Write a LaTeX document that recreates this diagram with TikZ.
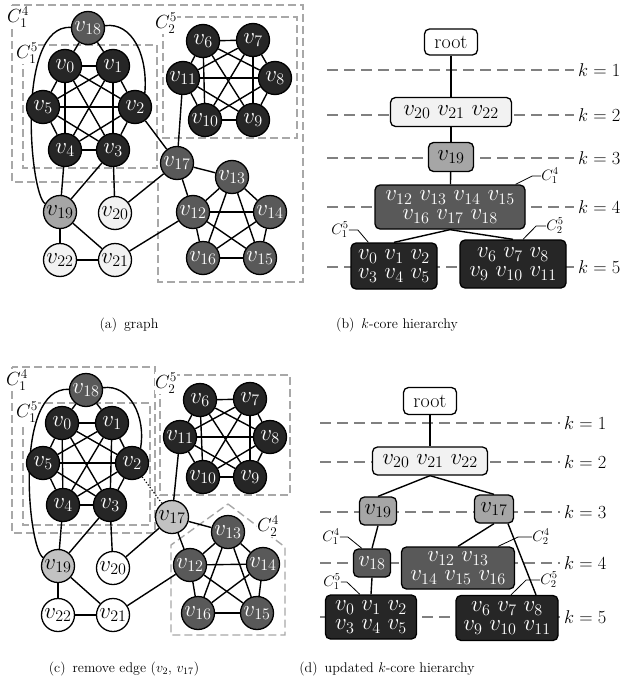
\RequirePackage{fix-cm}
\documentclass[tikz,border=0pt]{standalone}
\usetikzlibrary{calc}
\pgfdeclarelayer{back}
\pgfdeclarelayer{mid}
\pgfsetlayers{back,mid,main}
\definecolor{corefive}{gray}{0.15}
\definecolor{corefour}{gray}{0.35}
\definecolor{corethree}{gray}{0.65}
\definecolor{corethreelt}{gray}{0.76}
\definecolor{coretwo}{gray}{0.95}
\definecolor{boxgray}{gray}{0.66}
\definecolor{levelgray}{gray}{0.5}
\begin{document}
\begin{tikzpicture}[x=1pt,y=-1pt,
  vtx/.style={circle,draw=black,line width=1.3pt,minimum size=33pt,inner sep=0pt,font=\fontsize{23}{23}\selectfont},
  dk/.style={vtx,fill=corefive,text=white},
  md/.style={vtx,fill=corefour,text=white},
  lt/.style={vtx,fill=corethree},
  ltb/.style={vtx,fill=corethreelt},
  pl/.style={vtx,fill=coretwo},
  wh/.style={vtx,fill=white},
  edge/.style={line width=1.4pt},
  cbox/.style={draw=boxgray,line width=1.4pt,dash pattern=on 8pt off 4pt},
  clab/.style={fill=white,inner sep=0.5pt,font=\fontsize{19}{19}\selectfont},
  level/.style={draw=levelgray,line width=1.8pt,dash pattern=on 11pt off 6pt},
  klab/.style={anchor=west,font=\fontsize{18.5}{18.5}\selectfont,inner sep=0pt},
  hbox/.style={draw=black,line width=1.3pt,rounded corners=5pt,inner sep=0pt,align=center,font=\fontsize{23}{19}\selectfont},
  hb/.style n args={2}{hbox,minimum width=#1pt,minimum height=#2pt},
  hlab/.style={font=\fontsize{15}{15}\selectfont,inner sep=0pt},
  leader/.style={line width=0.8pt},
  capt/.style={anchor=base,font=\fontsize{14}{14}\selectfont},
]
\path[use as bounding box] (0,0) rectangle (624,685);

% ---------- (a) graph ----------
\foreach \n/\x/\y in {0/65/66,1/113/66,2/135/107,3/113/150,4/65/150,5/43/107,
                      6/203/41,7/253/40,8/275/78,9/253/120,10/205/120,11/183/78}
  \node[dk] (a\n) at (\x,\y) {$v_{\n}$};
\foreach \n/\x/\y in {12/193/212,13/232/177,14/270/212,15/260/258,16/203/258,17/177/163,18/88/28}
  \node[md] (a\n) at (\x,\y) {$v_{\n}$};
\node[lt] (a19) at (60,212) {$v_{19}$};
\foreach \n/\x/\y in {20/115/213,21/115/260,22/60/260}
  \node[pl] (a\n) at (\x,\y) {$v_{\n}$};

% ---------- (c) graph after edge removal ----------
\foreach \n/\x/\y in {0/62/423,1/112/423,2/132/463,3/110/505,4/63/505,5/43/463,
                      6/200/400,7/250/399,8/270/437,9/250/477,10/203/477,11/180/437}
  \node[dk] (c\n) at (\x,\y) {$v_{\n}$};
\foreach \n/\x/\y in {12/190/565,13/228/532,14/263/564,15/257/613,16/198/613,18/86/390}
  \node[md] (c\n) at (\x,\y) {$v_{\n}$};
\node[ltb] (c17) at (172,517) {$v_{17}$};
\node[ltb] (c19) at (58,566) {$v_{19}$};
\foreach \n/\x/\y in {20/113/568,21/113/615,22/58/615}
  \node[wh] (c\n) at (\x,\y) {$v_{\n}$};

% ---------- edges ----------
\begin{pgfonlayer}{mid}
\foreach \p in {a,c}{
  \foreach \i/\j in {0/1,0/2,0/3,0/4,0/5,1/2,1/3,1/4,1/5,2/3,2/4,2/5,3/4,3/5,4/5,
      6/7,6/8,6/9,6/10,6/11,7/8,7/9,7/10,7/11,8/9,8/10,8/11,9/10,9/11,10/11,
      12/13,12/14,12/15,12/16,13/14,13/15,13/16,14/15,14/16,15/16,
      18/0,18/1,4/19,3/19,3/20,19/22,19/21,22/21,21/12,20/17,11/17,17/13,17/12}
    \draw[edge] (\p\i) -- (\p\j);
}
\draw[edge] (a2) -- (a17);
\draw[line width=1.2pt,dotted] (c2) -- (c17);
\draw[edge] (a18) .. controls (15,25) and (30,195) .. (a19);
\draw[edge] (a18) .. controls (132,22) and (148,55) .. (a2.55);
\draw[edge] (c18) .. controls (13,387) and (28,549) .. (c19);
\draw[edge] (c18) .. controls (130,384) and (146,417) .. (c2.60);
\end{pgfonlayer}

% ---------- core boxes ----------
\begin{pgfonlayer}{back}
\draw[cbox] (12,5) -- (303,5) -- (303,282) -- (158,282) -- (158,182) -- (12,182) -- cycle;
\draw[cbox] (23,45) rectangle (157,168);
\draw[cbox] (163,17) rectangle (297,138);
\node[clab] (la14) at (18,17) {$C_1^4$};
\node[clab] (la15) at (27,53) {$C_1^5$};
\node[clab] (la25) at (166,23) {$C_2^5$};

\draw[cbox] (12,367) rectangle (155,533);
\draw[cbox] (23,403) rectangle (150,525);
\draw[cbox] (160,375) rectangle (290,495);
\draw[cbox] (228,504) -- (285,547) -- (285,635) -- (171,635) -- (171,545) -- cycle;
\node[clab] (lc14) at (17,380) {$C_1^4$};
\node[clab] (lc15) at (27,412) {$C_1^5$};
\node[clab] (lc25) at (166,383) {$C_2^5$};
\node[clab] (lc24) at (268,526) {$C_2^4$};

% level lines
\foreach \y/\k in {70/1,115/2,158/3,207/4,267/5}{
  \draw[level] (327,\y) -- (574,\y);
  \node[klab] (bk\k) at (578,\y) {$k=\k$};
}
\foreach \y/\k in {423/1,462/2,512/3,563/4,617/5}{
  \draw[level] (320,\y) -- (560,\y);
  \node[klab] (dk\k) at (564,\y) {$k=\k$};
}
\end{pgfonlayer}

% ---------- (b) hierarchy ----------
\node[hb={53}{26},fill=white,font=\fontsize{20}{20}\selectfont] (broot) at (451,42) {root};
\node[hb={121}{29},fill=coretwo] (b2) at (451,112) {$v_{20}$ $v_{21}$ $v_{22}$};
\node[hb={45}{29},fill=corethree] (b3) at (451,157) {$v_{19}$};
\node[hb={150}{44},fill=corefour,text=white] (b4) at (450,207) {$v_{12}$ $v_{13}$ $v_{14}$ $v_{15}$\\ $v_{16}$ $v_{17}$ $v_{18}$};
\node[hb={86}{46},fill=corefive,text=white] (b5a) at (394,266) {$v_0$ $v_1$ $v_2$\\ $v_3$ $v_4$ $v_5$};
\node[hb={106}{48},fill=corefive,text=white] (b5b) at (513,264) {$v_6$ $v_7$ $v_8$\\ $v_9$ $v_{10}$ $v_{11}$};
\begin{pgfonlayer}{mid}
\draw[edge] (broot) -- (b2);
\draw[edge] (b2) -- (b3);
\draw[edge] (b3) -- (b4);
\draw[edge] (b4.south) -- (b5a.north);
\draw[edge] (b4.south) -- (b5b.north);
\end{pgfonlayer}
\node[hlab] (lb4) at (550,176) {$C_1^4$};
\draw[leader] ($(b4.north east)+(-10,0)$) -- ($(lb4.west)+(-9,0)$) -- (lb4.west);
\node[hlab] (lb5a) at (340,230) {$C_1^5$};
\draw[leader] (lb5a.east) -- ++(9,0) -- ($(b5a.north west)+(18,0)$);
\node[hlab] (lb5b) at (555,226) {$C_2^5$};
\draw[leader] ($(b5b.north)+(10,0)$) -- ($(lb5b.west)+(-10,0)$) -- (lb5b.west);

% ---------- (d) updated hierarchy ----------
\node[hb={53}{27},fill=white,font=\fontsize{20}{20}\selectfont] (droot) at (430,401) {root};
\node[hb={115}{28},fill=coretwo] (d2) at (430,461) {$v_{20}$ $v_{21}$ $v_{22}$};
\node[hb={37}{28},fill=corethree] (d3a) at (378,511) {$v_{19}$};
\node[hb={39}{28},fill=corethree] (d3b) at (494,509) {$v_{17}$};
\node[hb={37}{28},fill=corefour,text=white] (d4a) at (372,563) {$v_{18}$};
\node[hb={113}{42},fill=corefour,text=white] (d4b) at (458,568) {$v_{12}$ $v_{13}$\\ $v_{14}$ $v_{15}$ $v_{16}$};
\node[hb={91}{44},fill=corefive,text=white] (d5a) at (371,617) {$v_0$ $v_1$ $v_2$\\ $v_3$ $v_4$ $v_5$};
\node[hb={102}{45},fill=corefive,text=white] (d5b) at (507,618) {$v_6$ $v_7$ $v_8$\\ $v_9$ $v_{10}$ $v_{11}$};
\begin{pgfonlayer}{mid}
\draw[edge] (droot) -- (d2);
\draw[edge] (d2.south) -- (d3a.north);
\draw[edge] (d2.south) -- (d3b.north);
\draw[edge] (d3a.south) -- (d4a.north);
\draw[edge] (d4a.south) -- (d5a.north);
\draw[edge] (d3b.south) -- (d4b.north);
\draw[edge] ($(d3b.south)+(14,0)$) -- ($(d5b.north)+(29,0)$);
\end{pgfonlayer}
\node[hlab] (ld4a) at (331,537) {$C_1^4$};
\draw[leader] (ld4a.east) -- ++(8,0) -- ($(d4a.north west)+(9,0)$);
\node[hlab] (ld5a) at (332,582) {$C_1^5$};
\draw[leader] (ld5a.east) -- ++(6,0) -- ($(d5a.north west)+(35,0)$);
\node[hlab] (ld4b) at (541,537) {$C_2^4$};
\draw[leader] ($(d4b.north east)+(-17,0)$) -- ($(ld4b.west)+(-14,0)$) -- (ld4b.west);
\node[hlab] (ld5b) at (549,580) {$C_2^5$};
\draw[leader] ($(d5b.north)+(4,0)$) -- ($(ld5b.west)+(-14,0)$) -- (ld5b.west);

% ---------- captions ----------
\node[capt] (capa) at (129,328) {(a)\hspace{0.5em}graph};
\node[capt] (capb) at (397,328) {(b)\hspace{0.5em}$k$-core hierarchy};
\node[capt] (capc) at (124,672) {(c)\hspace{0.5em}remove edge ($v_2$,\ $v_{17}$)};
\node[capt] (capd) at (387,672) {(d)\hspace{0.5em}updated $k$-core hierarchy};
\end{tikzpicture}
\end{document}
